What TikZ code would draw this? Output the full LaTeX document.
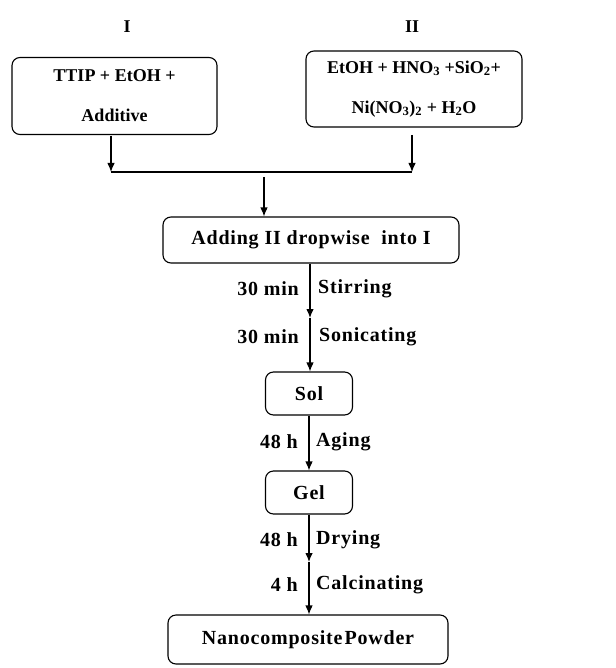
\documentclass[tikz,border=0pt]{standalone}
\usepackage{fontspec}
\setmainfont{Liberation Serif}
\usetikzlibrary{arrows.meta}
\newfontfamily\wideserif[LetterSpace=4]{Liberation Serif}
\begin{document}
\begin{tikzpicture}[x=1pt,y=-1pt,
 box/.style={draw, rounded corners=8pt, line width=1.1pt, align=center, inner sep=0pt, font=\bfseries\fontsize{18}{40}\selectfont},
 wbox/.style={box, font=\wideserif\bfseries\fontsize{20}{24}\selectfont},
 hd/.style={font=\bfseries\fontsize{18}{20}\selectfont, inner sep=0pt},
 lbl/.style={font=\wideserif\bfseries\fontsize{20}{24}\selectfont, inner sep=0pt},
 arr/.style={-{Latex[length=9pt,width=7.5pt]}, line width=1.1pt},
 ln/.style={line width=1.1pt}]
\useasboundingbox (0,0) rectangle (615,668);
\fill[white] (0,0) rectangle (615,668);
% headings
\node[hd] (hI) at (127,27) {I};
\node[hd] (hII) at (412,27) {II};
% boxes
\node[box, minimum width=205pt, minimum height=77pt] (b1) at (114.5,96) {TTIP + EtOH +\\Additive};
\node[box, minimum width=216pt, minimum height=76pt] (b2) at (414,89) {EtOH + HNO\textsubscript{3} +SiO\textsubscript{2}+\\Ni(NO\textsubscript{3})\textsubscript{2} + H\textsubscript{2}O};
\node[wbox, minimum width=296pt, minimum height=46pt] (add) at (311,240) {Adding II dropwise\ \ into I};
\node[wbox, minimum width=87pt, minimum height=43pt] (sol) at (309,393.5) {Sol};
\node[wbox, minimum width=87pt, minimum height=43pt] (gel) at (309,492.5) {Gel};
\node[wbox, minimum width=280pt, minimum height=49pt] (pow) at (308,639.5) {Nanocomposite\hspace{2pt}Powder};
% junction
\coordinate (jl) at (111,172);
\coordinate (jr) at (412,172);
\coordinate (s1) at (111,136);
\coordinate (s2) at (412,135);
\coordinate (c0) at (264,177);
\draw[arr] (s1) -- (jl);
\draw[arr] (s2) -- (jr);
\draw[ln] (jl) -- (jr);
\draw[arr] (c0) -- (add.north -| c0);
% process chain
\coordinate (m1) at (310,318);
\coordinate (m2) at (309,562);
\draw[arr] (add.south -| m1) -- (m1);
\draw[arr] (m1) -- (sol.north -| m1);
\draw[arr] (sol.south -| m2) -- (gel.north -| m2);
\draw[arr] (gel.south -| m2) -- (m2);
\draw[arr] (m2) -- (pow.north -| m2);
% labels
\node[lbl, anchor=east] (t1) at (299,289) {30 min};
\node[lbl, anchor=west] (p1) at (318,289) {Stirring};
\node[lbl, anchor=east] (t2) at (299,337) {30 min};
\node[lbl, anchor=west] (p2) at (319,337) {Sonicating};
\node[lbl, anchor=east] (t3) at (298,442) {48 h};
\node[lbl, anchor=west] (p3) at (316,442) {Aging};
\node[lbl, anchor=east] (t4) at (298,540) {48 h};
\node[lbl, anchor=west] (p4) at (316,540) {Drying};
\node[lbl, anchor=east] (t5) at (298,585) {4 h};
\node[lbl, anchor=west] (p5) at (316,585) {Calcinating};
\end{tikzpicture}
\end{document}
